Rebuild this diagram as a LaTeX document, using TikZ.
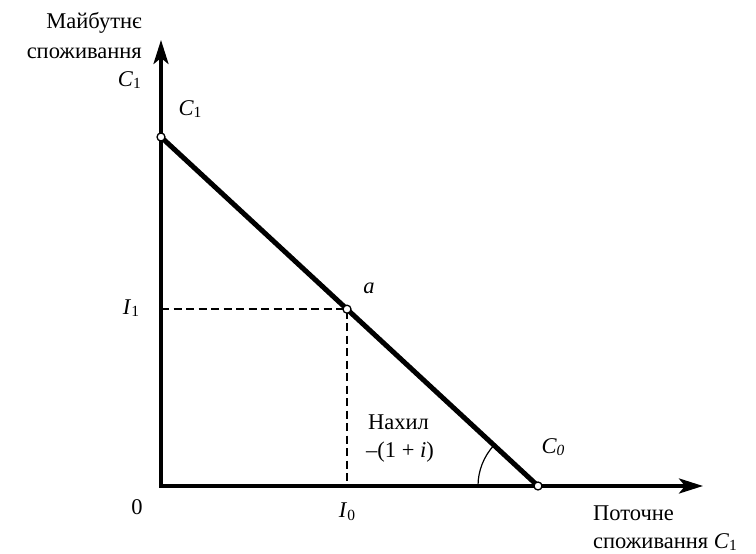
\documentclass[tikz,border=0pt]{standalone}
\usepackage{fontspec}
\setmainfont{Liberation Serif}
\usetikzlibrary{arrows.meta,calc}
\newcommand\lowsub[1]{\raisebox{-0.25ex}{\fontsize{15.5}{15.5}\selectfont #1}}
\begin{document}
\begin{tikzpicture}[x=1pt,y=1pt,
  axis/.style={line width=3.6pt,line join=miter,{Stealth[length=24pt,width=15pt,inset=6pt]}-{Stealth[length=24pt,width=15pt,inset=6pt]}},
  budget/.style={line width=5pt},
  guide/.style={line width=2pt,dash pattern=on 8pt off 4.5pt},
  pt/.style={circle,draw,line width=1.3pt,fill=white,inner sep=0pt,minimum size=8pt},
  lbl/.style={font=\fontsize{22.5}{25}\selectfont,inner sep=0pt}]
\useasboundingbox (0,0) rectangle (756,554);
\coordinate (O) at (161,68);
\coordinate (ytip) at (161,514);
\coordinate (xtip) at (703,68);
\coordinate (c1) at (161,417);
\coordinate (c0) at (538,68);
\coordinate (ap) at ($(c1)!0.4934!(c0)$);
\coordinate (ay) at (O |- ap);
\coordinate (ax) at (O -| ap);
\draw[axis] (ytip) -- (O) -- (xtip);
\draw[guide] (ay) -- (ap) -- (ax);
\draw[budget] (c1) -- (c0);
\draw[line width=1.2pt] ($(c0)+(-60,0)$) arc[start angle=180,end angle=137.2,radius=60];
\node[pt] (C1pt) at (c1) {};
\node[pt] (Apt) at (ap) {};
\node[pt] (C0pt) at (c0) {};
% labels
\node[lbl,anchor=east] (yl1) at (142,531) {Майбутнє};
\node[lbl,anchor=east] (yl2) at (142,501) {споживання};
\node[lbl,anchor=east] (yl3) at (141,474) {\textit{C}\lowsub{1}};
\node[lbl] (c1l) at (190,445) {\textit{C}\lowsub{1}};
\node[lbl] (al) at (369,266) {\textit{a}};
\node[lbl] (i1l) at (131,246) {\textit{I}\lowsub{1}};
\node[lbl] (zl) at (137,47) {0};
\node[lbl] (i0l) at (347,42) {\textit{I}\lowsub{0}};
\node[lbl,anchor=west] (sl1) at (368,132) {Нахил};
\node[lbl,anchor=west] (sl2) at (366,102) {–(1 + \textit{i})};
\node[lbl] (c0l) at (553,107) {\textit{C}\lowsub{\textit{0}}};
\node[lbl,anchor=west] (xl1) at (593,41) {Поточне};
\node[lbl,anchor=west] (xl2) at (593,12) {споживання \textit{C}\lowsub{1}};
\end{tikzpicture}
\end{document}
